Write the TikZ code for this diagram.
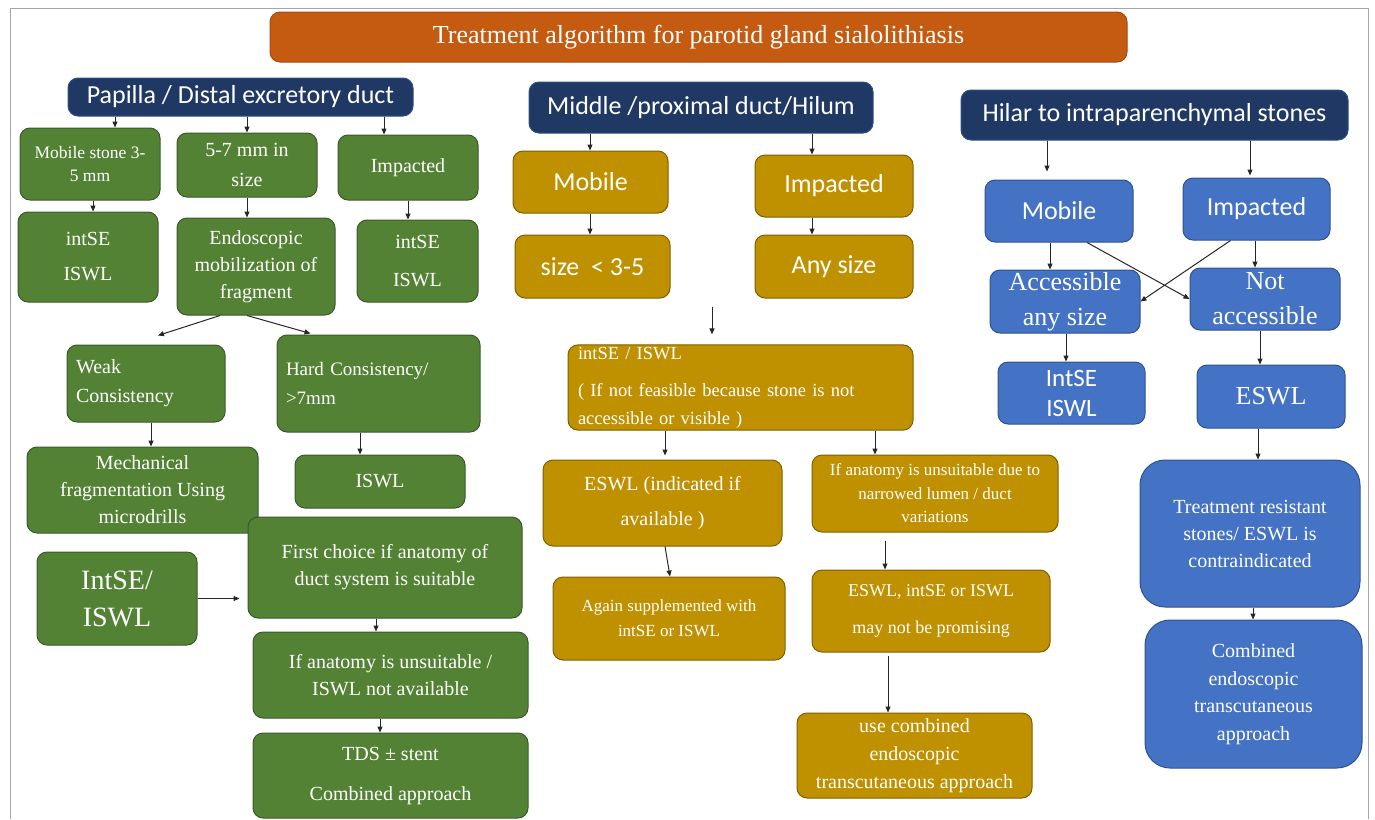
\documentclass[tikz,border=0pt]{standalone}
\usepackage{fontspec}
\setmainfont{Liberation Serif}
\newfontfamily\headfont{Carlito}
\usetikzlibrary{arrows.meta}

\definecolor{ttlorange}{HTML}{C55A11}
\definecolor{ttledge}{HTML}{A34B10}
\definecolor{navy}{HTML}{203864}
\definecolor{navyedge}{HTML}{2F4F86}
\definecolor{boxgreen}{HTML}{548235}
\definecolor{edgegreen}{HTML}{3A5A2C}
\definecolor{boxgold}{HTML}{BF9000}
\definecolor{edgegold}{HTML}{7F6000}
\definecolor{boxblue}{HTML}{4472C4}
\definecolor{edgeblue}{HTML}{2F528F}

% font sizes (1pt = 1px of the layout)
\newcommand\tA{\fontsize{20}{27}\selectfont}
\newcommand\tB{\fontsize{17}{23.5}\selectfont}
\newcommand\tC{\fontsize{26}{35}\selectfont}
\newcommand\tH{\headfont\fontsize{26}{30}\selectfont}

\tikzset{
  box/.style={rounded corners=10pt, text=white, align=center, inner sep=2pt, line width=1pt},
  sz/.style 2 args={minimum width=#1pt, minimum height=#2pt},
  gbox/.style={box, fill=boxgreen, draw=edgegreen, font=\tA},
  ybox/.style={box, fill=boxgold, draw=edgegold, font=\tA},
  bbox/.style={box, fill=boxblue, draw=edgeblue, font=\tA},
  head/.style={box, fill=navy, draw=navyedge, font=\tH},
  arr/.style={-{Triangle[length=6pt,width=5pt]}, line width=1pt, draw=black!85},
}

\begin{document}
\begin{tikzpicture}[x=1pt, y=-1pt]
\useasboundingbox (0,0) rectangle (1375,819);
\draw[gray!70, line width=1pt] (10,819) -- (10,8) -- (1368,8) -- (1368,819);

\node[box, sz={857}{50}, fill=ttlorange, draw=ttledge, font=\tC] (title) at (698.5,37)
  {Treatment algorithm for parotid gland sialolithiasis};

% headers
\node[head, sz={345}{38}] (hL) at (240.5,97) {Papilla / Distal excretory duct};
\node[head, sz={344}{51}] (hM) at (701,107.5) {Middle /proximal duct/Hilum};
\node[head, sz={387}{50}] (hR) at (1154.5,115) {Hilar to intraparenchymal stones};

% papilla / distal duct
\node[gbox, sz={140}{72}, font=\fontsize{17.5}{23}\selectfont] (l1) at (90,164) {Mobile stone 3-\\5 mm};
\node[gbox, sz={140}{64}, font=\fontsize{20}{30}\selectfont] (l2) at (247,165) {5-7 mm in\\size};
\node[gbox, sz={140}{65}] (l3) at (408,167.5) {Impacted};
\node[gbox, sz={140}{90}, font=\fontsize{20}{35}\selectfont] (l4) at (88,257) {intSE\\ISWL};
\node[gbox, sz={158}{97}] (l5) at (256,266.5) {Endoscopic\\mobilization of\\fragment};
\node[gbox, sz={121}{82}, font=\fontsize{20}{38}\selectfont] (l6) at (417.5,261) {intSE\\ISWL};
\node[gbox, sz={158}{77}, align=left, text width=140pt, font=\fontsize{20}{29}\selectfont] (l7) at (146,383.5) {Weak\\Consistency};
\node[gbox, sz={203}{97}, align=left, text width=185pt, font=\fontsize{19}{29}\selectfont] (l8) at (378.5,383.5) {Hard Consistency/\\>7mm};
\node[gbox, sz={231}{86}] (l9) at (142.5,490) {Mechanical\\fragmentation Using\\microdrills};
\node[gbox, sz={170}{53}] (l10) at (380,481.5) {ISWL};
\node[gbox, sz={160}{93}, font=\fontsize{28}{37}\selectfont] (l11) at (117,598.5) {IntSE/\\ISWL};
\node[gbox, sz={274}{101}] (l12) at (385,567.5) {First choice if anatomy of\\duct system is suitable};
\node[gbox, sz={275}{86}] (l13) at (390.5,675) {If anatomy is unsuitable /\\ISWL not available};
\node[gbox, sz={275}{85}, font=\fontsize{20}{40}\selectfont] (l14) at (390.5,775.5) {TDS ± stent\\Combined approach};

% middle / proximal duct
\node[ybox, sz={155}{62}, font=\tH] (m1) at (590.5,182) {Mobile};
\node[ybox, sz={158}{62}, font=\tH] (m2) at (834,186) {Impacted};
\node[ybox, sz={155}{63}, font=\tH] (m3) at (592.5,266.5) {size~~< 3-5};
\node[ybox, sz={158}{63}, font=\tH] (m4) at (834,266.5) {Any size};
\coordinate (fa) at (712,307);
\node[ybox, sz={345}{85}, align=left, text width=325pt, font=\fontsize{18.5}{28}\selectfont] (m5) at (740.5,387.5)
  {intSE / ISWL\\[9pt]( If not feasible because stone is not\\accessible or visible )};
\node[ybox, sz={239}{86}, font=\fontsize{20}{35}\selectfont] (m6) at (662.5,503) {ESWL (indicated if\\available )};
\node[ybox, sz={246}{77}, font=\tB] (m7) at (935,493.5) {If anatomy is unsuitable due to\\narrowed lumen / duct\\variations};
\node[ybox, sz={232}{83}, font=\fontsize{17}{25}\selectfont] (m8) at (669,618.5) {Again supplemented with\\intSE or ISWL};
\node[ybox, sz={238}{82}, font=\fontsize{18}{37}\selectfont] (m9) at (931,611) {ESWL, intSE or ISWL\\may not be promising};
\node[ybox, sz={235}{85}, font=\fontsize{20}{28}\selectfont] (m10) at (914.5,755.5) {use combined\\endoscopic\\transcutaneous approach};

% hilar / intraparenchymal
\node[bbox, sz={148}{62}, font=\tH] (r1) at (1059,211) {Mobile};
\node[bbox, sz={147}{62}, font=\tH] (r2) at (1256.5,209) {Impacted};
\node[bbox, sz={150}{63}, font=\tC] (r3) at (1065,301.5) {Accessible\\any size};
\node[bbox, sz={150}{62}, font=\tC] (r4) at (1265,299) {Not\\accessible};
\node[bbox, sz={147}{62}, font=\headfont\fontsize{25}{30}\selectfont] (r5) at (1071.5,393) {IntSE\\ISWL};
\node[bbox, sz={148}{63}, font=\tC] (r6) at (1271,396.5) {ESWL};
\node[bbox, sz={220}{147}, rounded corners=25pt] (r7) at (1250,533.5) {Treatment resistant\\stones/ ESWL is\\contraindicated};
\node[bbox, sz={217}{148}, rounded corners=25pt, font=\fontsize{20}{27.5}\selectfont] (r8) at (1253.5,694) {Combined\\endoscopic\\transcutaneous\\approach};

% arrows left
\draw[arr] (hL.south -| 115,0) -- (l1.north -| 115,0);
\draw[arr] (hL.south -| 247,0) -- (l2.north -| 247,0);
\draw[arr] (hL.south -| 384,0) -- (l3.north -| 384,0);
\draw[arr] (l1.south -| 93,0) -- (l4.north -| 93,0);
\draw[arr] (l2.south -| 247,0) -- (l5.north -| 247,0);
\draw[arr] (l3.south -| 408,0) -- (l6.north -| 408,0);
\draw[arr] ([xshift=-36pt]l5.south) -- ([xshift=12pt,yshift=9pt]l7.north);
\draw[arr] ([xshift=-9pt]l5.south) -- ([xshift=-68pt,yshift=1pt]l8.north);
\draw[arr] (l7.south -| 151,0) -- (l9.north -| 151,0);
\draw[arr] (l8.south -| 360,0) -- (l10.north -| 360,0);
\draw[arr] (l11.east) -- ([xshift=-8pt]l11.east -| l12.west);
\draw[arr] (l12.south -| 376,0) -- (l13.north -| 376,0);
\draw[arr] (l13.south -| 380,0) -- (l14.north -| 380,0);

% arrows middle
\draw[arr] (hM.south -| 590,0) -- (m1.north -| 590,0);
\draw[arr] (hM.south -| 812,0) -- (m2.north -| 812,0);
\draw[arr] (m1.south -| 590,0) -- (m3.north -| 590,0);
\draw[arr] (m2.south -| 812,0) -- (m4.north -| 812,0);
\draw[arr] (fa) -- ([yshift=10pt]fa |- m5.north);
\draw[arr] (m5.south -| 665,0) -- ([yshift=4pt]m6.north -| 665,0);
\draw[arr] (m5.south -| 875,0) -- (m7.north -| 875,0);
\draw[arr] ([xshift=2.5pt]m6.south) -- ([xshift=1pt]m8.north);
\draw[arr] ([yshift=-8pt]m7.south -| 885,0) -- (m9.north -| 885,0);
\draw[arr] ([yshift=-3pt]m9.south -| 888,0) -- (m10.north -| 888,0);

% arrows right
\draw[arr] (hR.south -| 1047,0) -- ([yshift=8pt]r1.north -| 1047,0);
\draw[arr] (hR.south -| 1250,0) -- ([yshift=2pt]r2.north -| 1250,0);
\draw[arr] (r1.south -| 1050,0) -- (r3.north -| 1050,0);
\draw[arr] (r2.south -| 1255,0) -- (r4.north -| 1255,0);
\draw[arr] ([xshift=28pt]r1.south) -- (r4.west);
\draw[arr] ([xshift=-26pt]r2.south) -- (r3.east);
\draw[arr] (r3.south -| 1066,0) -- (r5.north -| 1066,0);
\draw[arr] (r4.south -| 1260,0) -- (r6.north -| 1260,0);
\draw[arr] (r6.south -| 1258,0) -- (r7.north -| 1258,0);
\draw[arr] (r7.south -| 1253,0) -- (r8.north -| 1253,0);
\end{tikzpicture}
\end{document}
